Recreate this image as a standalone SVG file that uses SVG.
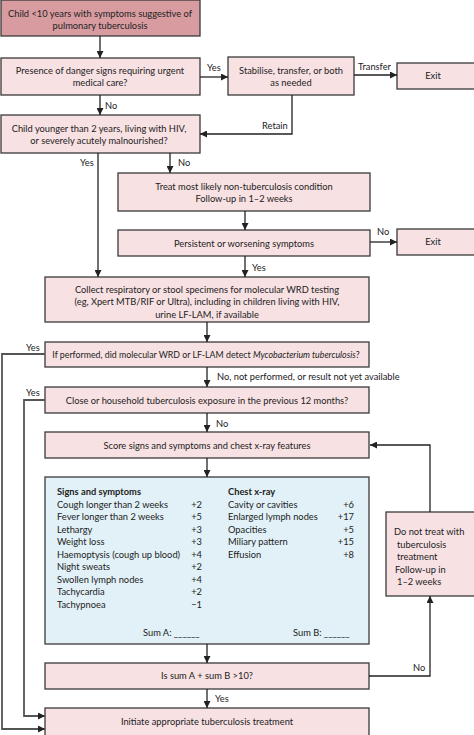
<svg xmlns="http://www.w3.org/2000/svg" width="474" height="735" viewBox="0 0 474 735">
<defs>
<marker id="ah" viewBox="0 0 10 10" refX="10" refY="5" markerWidth="7" markerHeight="7" markerUnits="userSpaceOnUse" orient="auto">
<path d="M0,0 L10,5 L0,10 z" fill="#222"/>
</marker>
<style>
.box{fill:#f8e1e2;stroke:#3a3a3a;stroke-width:1.3}
.top{fill:#d89ca0;stroke:#3a3a3a;stroke-width:1.3}
.blue{fill:#e1f1f7;stroke:#3a3a3a;stroke-width:1.3}
text{font-family:Lato,"Open Sans","Liberation Sans",sans-serif;font-size:9.3px;fill:#222}
.c{text-anchor:middle}
.r{text-anchor:end}
.b{font-weight:bold}
.conn path{fill:none;stroke:#222;stroke-width:1.3}
.gl{stroke:#555 !important;stroke-width:1.8 !important}
</style>
</defs>
<rect width="474" height="735" fill="#fff"/>

<g id="n1"><rect class="top" x="1" y="0" width="199" height="36"/>
<text class="c" x="100" y="16.5">Child &lt;10 years with symptoms suggestive of</text>
<text class="c" x="100" y="28.5">pulmonary tuberculosis</text></g>

<g id="n2"><rect class="box" x="1" y="58" width="199" height="37"/>
<text class="c" x="100" y="74">Presence of danger signs requiring urgent</text>
<text class="c" x="100" y="86">medical care?</text></g>

<g id="n3"><rect class="box" x="228" y="57" width="126" height="38"/>
<text class="c" x="291" y="73.5">Stabilise, transfer, or both</text>
<text class="c" x="291" y="86">as needed</text></g>

<g id="n4"><rect class="box" x="397" y="63" width="80" height="26"/>
<text class="c" x="433" y="79">Exit</text></g>

<g id="n5"><rect class="box" x="1" y="115" width="199" height="38"/>
<text class="c" x="99" y="131.5">Child younger than 2 years, living with HIV,</text>
<text class="c" x="99" y="143.5">or severely acutely malnourished?</text></g>

<g id="n6"><rect class="box" x="118" y="173" width="252" height="38"/>
<text class="c" x="244" y="189.5">Treat most likely non-tuberculosis condition</text>
<text class="c" x="244" y="202">Follow-up in 1–2 weeks</text></g>

<g id="n7"><rect class="box" x="118" y="230" width="252" height="26"/>
<text class="c" x="244" y="246.5">Persistent or worsening symptoms</text></g>

<g id="n8"><rect class="box" x="397" y="229" width="80" height="26"/>
<text class="c" x="433" y="245">Exit</text></g>

<g id="n9"><rect class="box" x="45" y="277" width="324" height="45"/>
<text class="c" x="207" y="292.5">Collect respiratory or stool specimens for molecular WRD testing</text>
<text class="c" x="207" y="305">(eg, Xpert MTB/RIF or Ultra), including in children living with HIV,</text>
<text class="c" x="207" y="317.5">urine LF-LAM, if available</text></g>

<g id="n10"><rect class="box" x="45" y="342" width="324" height="25"/>
<text class="c" x="206" y="357.5" style="font-size:8.8px">If performed, did molecular WRD or LF-LAM detect <tspan font-style="italic">Mycobacterium tuberculosis</tspan>?</text></g>

<g id="n11"><rect class="box" x="45" y="387" width="324" height="26"/>
<text class="c" x="207" y="403.5">Close or household tuberculosis exposure in the previous 12 months?</text></g>

<g id="n12"><rect class="box" x="45" y="432" width="324" height="26"/>
<text class="c" x="207" y="448.5">Score signs and symptoms and chest x-ray features</text></g>

<g id="n13"><rect class="blue" x="45" y="477" width="324" height="167"/>
<text class="b" x="57" y="495">Signs and symptoms</text>
<text x="57" y="507.5">Cough longer than 2 weeks</text><text class="r" x="202" y="507.5">+2</text>
<text x="57" y="520">Fever longer than 2 weeks</text><text class="r" x="202" y="520">+5</text>
<text x="57" y="532.5">Lethargy</text><text class="r" x="202" y="532.5">+3</text>
<text x="57" y="545">Weight loss</text><text class="r" x="202" y="545">+3</text>
<text x="57" y="557.5">Haemoptysis (cough up blood)</text><text class="r" x="202" y="557.5">+4</text>
<text x="57" y="570">Night sweats</text><text class="r" x="202" y="570">+2</text>
<text x="57" y="582.5">Swollen lymph nodes</text><text class="r" x="202" y="582.5">+4</text>
<text x="57" y="595">Tachycardia</text><text class="r" x="202" y="595">+2</text>
<text x="57" y="607.5">Tachypnoea</text><text class="r" x="202" y="607.5">−1</text>
<text x="143" y="636">Sum A: ______</text>
<text class="b" x="228" y="495">Chest x-ray</text>
<text x="228" y="507.5">Cavity or cavities</text><text class="r" x="354" y="507.5">+6</text>
<text x="228" y="520">Enlarged lymph nodes</text><text class="r" x="354" y="520">+17</text>
<text x="228" y="532.5">Opacities</text><text class="r" x="354" y="532.5">+5</text>
<text x="228" y="545">Miliary pattern</text><text class="r" x="354" y="545">+15</text>
<text x="228" y="557.5">Effusion</text><text class="r" x="354" y="557.5">+8</text>
<text x="293" y="636">Sum B: ______</text></g>

<g id="n14"><rect class="box" x="386" y="512" width="91" height="84"/>
<text x="394" y="535">Do not treat with</text>
<text x="397" y="547.5">tuberculosis</text>
<text x="397" y="560">treatment</text>
<text x="395" y="572.5">Follow-up in</text>
<text x="397" y="585">1–2 weeks</text></g>

<g id="n15"><rect class="box" x="45" y="663" width="324" height="26"/>
<text class="c" x="207" y="679">Is sum A + sum B &gt;10?</text></g>

<g id="n16"><rect class="box" x="45" y="708" width="324" height="30"/>
<text class="c" x="207" y="724.5">Initiate appropriate tuberculosis treatment</text></g>

<g id="connectors" class="conn">
<path d="M100,36 V58" marker-end="url(#ah)"/>
<path d="M200,77 H228" marker-end="url(#ah)"/>
<path d="M354,75 H397" marker-end="url(#ah)"/>
<path d="M100,95 V115" marker-end="url(#ah)"/>
<path d="M292,95 V134 H200" marker-end="url(#ah)"/>
<path d="M170,153 V173" marker-end="url(#ah)"/>
<path d="M98,153 V277" marker-end="url(#ah)"/>
<path d="M245,211 V230" marker-end="url(#ah)"/>
<path d="M370,242 H397" marker-end="url(#ah)"/>
<path d="M245,256 V277" marker-end="url(#ah)"/>
<path d="M207,322 V342" marker-end="url(#ah)"/>
<path d="M207,367 V387" marker-end="url(#ah)"/>
<path d="M207,413 V432" marker-end="url(#ah)"/>
<path d="M207,458 V477" marker-end="url(#ah)"/>
<path d="M207,644 V663" marker-end="url(#ah)"/>
<path d="M207,689 V708" marker-end="url(#ah)"/>
<path d="M369,676 H430 V596" marker-end="url(#ah)"/>
<path d="M430,512 V445 H370" marker-end="url(#ah)"/>
<path class="gl" d="M45,354 H2 V729 H45" marker-end="url(#ah)"/>
<path class="gl" d="M45,400 H24 V716 H45" marker-end="url(#ah)"/>
<text x="207" y="71">Yes</text>
<text x="358" y="70">Transfer</text>
<text x="105" y="109">No</text>
<text x="262" y="129">Retain</text>
<text x="80" y="166">Yes</text>
<text x="178" y="166">No</text>
<text x="377" y="235">No</text>
<text x="252" y="271">Yes</text>
<text x="26" y="351">Yes</text>
<text x="217" y="380">No, not performed, or result not yet available</text>
<text x="26" y="396">Yes</text>
<text x="216" y="427">No</text>
<text x="413" y="671">No</text>
<text x="215" y="701.5">Yes</text>
</g>
</svg>
